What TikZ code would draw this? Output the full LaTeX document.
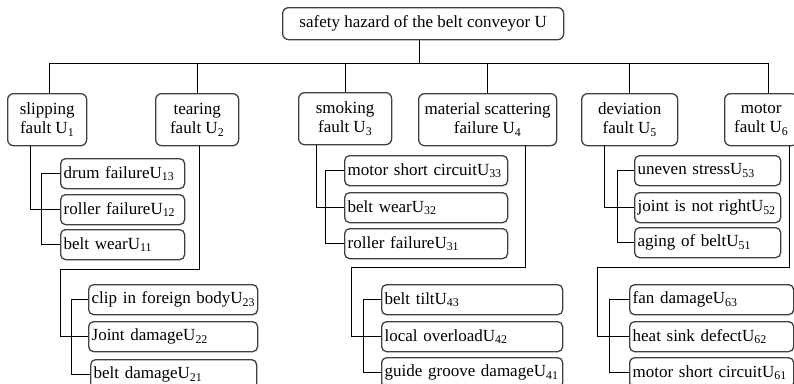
\documentclass[tikz,border=0pt]{standalone}
\usepackage{fontspec}
\setmainfont{Liberation Serif}
\usetikzlibrary{calc}
\newcommand\kidtext[1]{\mbox{#1}}
\begin{document}
\begin{tikzpicture}[x=1pt,y=-1pt,
  every node/.style={font=\fontsize{17}{19}\selectfont},
  box/.style={draw=black!75, line width=1.3pt, rounded corners=6pt, inner sep=0pt, anchor=north west, align=center, minimum height=52pt},
  kid/.style={draw=black!75, line width=1.3pt, rounded corners=5pt, inner xsep=3pt, inner ysep=0pt, anchor=north west, minimum height=30pt, align=left},
  link/.style={line width=1pt, black}]
\useasboundingbox (0,0) rectangle (794,383);
% top
\node[box, minimum width=281pt, minimum height=32pt] (top) at (282,7) {safety hazard of the belt conveyor U};
% level 1
\node[box, minimum width=79pt]  (u1) at (7,93)   {slipping\\fault U\textsubscript{1}};
\node[box, minimum width=83pt]  (u2) at (155,93) {tearing\\fault U\textsubscript{2}};
\node[box, minimum width=93pt]  (u3) at (298,92) {smoking\\fault U\textsubscript{3}};
\node[box, minimum width=138pt] (u4) at (418,93) {material scattering\\failure U\textsubscript{4}};
\node[box, minimum width=96pt]  (u5) at (581,93) {deviation\\fault U\textsubscript{5}};
\node[box, minimum width=73pt]  (u6) at (724,93) {motor\\fault U\textsubscript{6}};
% children U1
\node[kid, text width=118pt] (u13) at (60,158) {\kidtext{drum failureU\textsubscript{13}}};
\node[kid, text width=118pt] (u12) at (60,194) {\kidtext{roller failureU\textsubscript{12}}};
\node[kid, text width=118pt] (u11) at (60,229) {\kidtext{belt wearU\textsubscript{11}}};
% children U2
\node[kid, text width=163pt] (u23) at (88,284) {\kidtext{clip in foreign bodyU\textsubscript{23}}};
\node[kid, text width=163pt] (u22) at (88,321) {\kidtext{Joint damageU\textsubscript{22}}};
\node[kid, text width=160pt] (u21) at (90,359) {\kidtext{belt damageU\textsubscript{21}}};
% children U3
\node[kid, text width=157pt] (u33) at (344,155) {\kidtext{motor short circuitU\textsubscript{33}}};
\node[kid, text width=157pt] (u32) at (344,192) {\kidtext{belt wearU\textsubscript{32}}};
\node[kid, text width=157pt] (u31) at (344,228) {\kidtext{roller failureU\textsubscript{31}}};
% children U4
\node[kid, text width=175pt] (u43) at (381,284) {\kidtext{belt tiltU\textsubscript{43}}};
\node[kid, text width=175pt] (u42) at (381,321) {\kidtext{local overloadU\textsubscript{42}}};
\node[kid, text width=175pt] (u41) at (381,357) {\kidtext{guide groove damageU\textsubscript{41}}};
% children U5
\node[kid, text width=140pt] (u53) at (634,155) {\kidtext{uneven stressU\textsubscript{53}}};
\node[kid, text width=140pt] (u52) at (634,192) {\kidtext{joint is not rightU\textsubscript{52}}};
\node[kid, text width=140pt] (u51) at (634,227) {\kidtext{aging of beltU\textsubscript{51}}};
% children U6
\node[kid, text width=158pt] (u63) at (629,284) {\kidtext{fan damageU\textsubscript{63}}};
\node[kid, text width=158pt] (u62) at (629,321) {\kidtext{heat sink defectU\textsubscript{62}}};
\node[kid, text width=158pt] (u61) at (629,357) {\kidtext{motor short circuitU\textsubscript{61}}};
% bus
\coordinate (bus) at (0,63);
\coordinate (d1) at ([xshift=2.5pt]u1.north);
\coordinate (d6) at ([xshift=7.5pt]u6.north);
\draw[link] ([xshift=-4pt]top.south) -- ([xshift=-4pt]top.south |- bus);
\draw[link] (d1) -- (d1 |- bus) -- (d6 |- bus) -- (d6);
\foreach \n in {u2,u3,u4,u5} \draw[link] (\n.north) -- (\n.north |- bus);
% corner coordinates
\coordinate (c2) at (60,269);
\coordinate (c4) at (351,267);
\coordinate (c6) at (597,267);
% U1
\draw[link] ([xshift=23pt]u1.south west) |- (u12.west);
\draw[link] (u13.west) -- ++(-19,0) |- (u11.west);
% U2
\draw[link] ([xshift=44pt]u2.south west) |- (c2) |- (u22.west);
\draw[link] (u23.west) -- ++(-17,0) |- (u21.west);
% U3
\draw[link] ([xshift=18pt]u3.south west) |- (u32.west);
\draw[link] (u33.west) -- ++(-19,0) |- (u31.west);
% U4
\draw[link] ([xshift=-32pt]u4.south east) |- (c4) |- (u42.west);
\draw[link] (u43.west) -- ++(-18,0) |- (u41.west);
% U5
\draw[link] ([xshift=23pt]u5.south west) |- (u52.west);
\draw[link] (u53.west) -- ++(-17,0) |- (u51.west);
% U6
\draw[link] ([xshift=65pt]u6.south west) |- (c6) |- (u62.west);
\draw[link] (u63.west) -- ++(-20,0) |- (u61.west);
\end{tikzpicture}
\end{document}
